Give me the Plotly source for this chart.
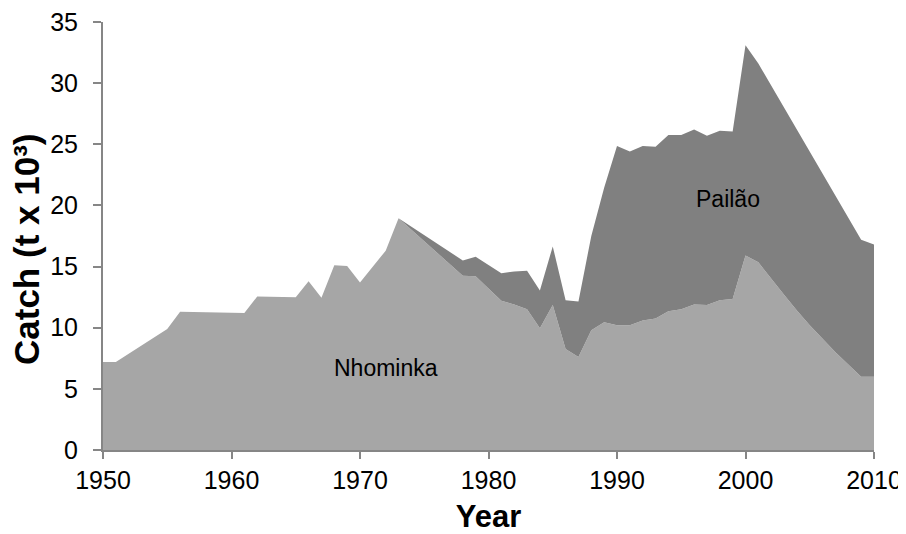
import plotly.graph_objects as go

years = [1950, 1951, 1955, 1956, 1961, 1962, 1965, 1966, 1967, 1968, 1969, 1970,
         1972, 1973, 1978, 1979, 1981, 1982, 1983, 1984, 1985, 1986, 1987, 1988,
         1989, 1990, 1991, 1992, 1993, 1994, 1995, 1996, 1997, 1998, 1999, 2000,
         2001, 2002, 2003, 2004, 2005, 2006, 2007, 2008, 2009, 2010]

nhominka = [7.2, 7.2, 9.9, 11.3, 11.2, 12.55, 12.5, 13.8, 12.45, 15.1, 15.05, 13.7,
            16.3, 18.95, 14.25, 14.2, 12.2, 11.9, 11.5, 9.95, 11.85, 8.25, 7.6, 9.8,
            10.45, 10.2, 10.2, 10.6, 10.75, 11.35, 11.5, 11.9, 11.85, 12.25, 12.35, 15.9,
            15.35, 14.0, 12.7, 11.4, 10.2, 9.1, 8.0, 7.0, 6.0, 6.0]

pailao = [0, 0, 0, 0, 0, 0, 0, 0, 0, 0, 0, 0,
          0, 0, 1.25, 1.6, 2.25, 2.7, 3.15, 3.1, 4.8, 4.0, 4.55, 7.7,
          11.0, 14.65, 14.2, 14.25, 14.05, 14.4, 14.25, 14.3, 13.85, 13.85, 13.7, 17.2,
          16.25, 15.8, 15.3, 14.8, 14.2, 13.5, 12.8, 12.0, 11.2, 10.8]

y_ticks = [0, 5, 10, 15, 20, 25, 30, 35]
x_ticks = [1950, 1960, 1970, 1980, 1990, 2000, 2010]

fig = go.Figure()
fig.add_trace(go.Scatter(x=years, y=nhominka, name="Nhominka", stackgroup="catch",
                         mode="lines", line=dict(width=0, color="#A6A6A6"),
                         fillcolor="#A6A6A6"))
fig.add_trace(go.Scatter(x=years, y=pailao, name="Pailão", stackgroup="catch",
                         mode="lines", line=dict(width=0, color="#808080"),
                         fillcolor="#808080"))

fam = "Liberation Sans, Arial, sans-serif"
tick_font = dict(family=fam, size=25, color="#000000")

fig.update_layout(
    width=906, height=534,
    margin=dict(l=95, r=40, t=14, b=92),
    paper_bgcolor="white", plot_bgcolor="white",
    showlegend=False,
    xaxis=dict(range=[1950, 2010], tickvals=x_ticks, ticktext=[str(t) for t in x_ticks],
               showgrid=False, zeroline=False, showline=True, linecolor="#868686",
               linewidth=2, ticks="outside", tickcolor="#868686", ticklen=7, tickwidth=2,
               tickfont=tick_font, automargin=False, ticklabeloverflow="allow",
               title=dict(text="<b>Year</b>", font=dict(family=fam, size=31, color="#000000"),
                          standoff=12)),
    yaxis=dict(range=[0, 35], tickvals=y_ticks, showgrid=False, zeroline=False,
               showline=True, linecolor="#868686", linewidth=2, ticks="outside",
               tickcolor="#868686", ticklen=8, tickwidth=2, tickfont=tick_font,
               ticklabelstandoff=10, automargin=False, ticklabeloverflow="allow"),
    annotations=[
        dict(x=-0.0999, y=0.4696, xref="paper", yref="paper", xanchor="center",
             yanchor="middle", textangle=-90, text="<b>Catch (t x 10³)</b>",
             showarrow=False, font=dict(family=fam, size=35, color="#000000")),
        dict(x=1972.0, y=6.7, text="Nhominka", showarrow=False,
             font=dict(family=fam, size=23, color="#000000")),
        dict(x=1998.6, y=20.5, text="Pailão", showarrow=False,
             font=dict(family=fam, size=23, color="#000000")),
    ],
)

fig.write_html("out.html")
